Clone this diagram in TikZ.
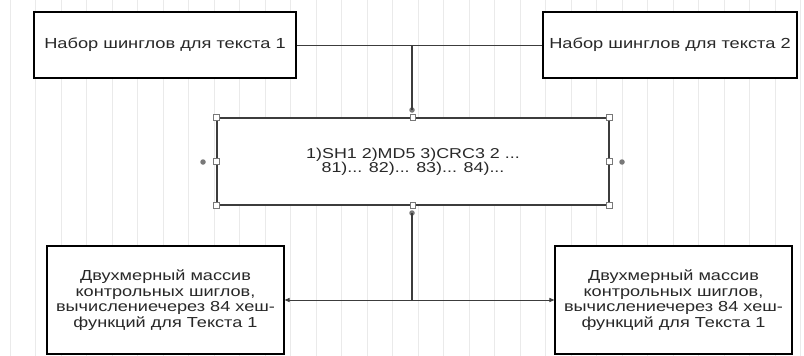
\documentclass[tikz,border=0pt]{standalone}
\usepackage{fontspec}
\setmainfont[FakeStretch=1.25]{Liberation Sans}
\usetikzlibrary{arrows.meta}
\definecolor{gridc}{RGB}{234,234,234}
\definecolor{linec}{RGB}{60,60,60}
\definecolor{handlec}{RGB}{120,120,120}
\definecolor{textc}{RGB}{40,40,40}
\tikzset{
  box/.style={draw=black, line width=1.1pt, fill=white, inner sep=0pt, align=center, text=textc},
  topbox/.style={box, font=\fontsize{14.6}{16}\selectfont},
  botbox/.style={box, font=\fontsize{14.5}{15.5}\selectfont},
  midbox/.style={draw=linec, line width=1.1pt, fill=white, inner sep=0pt, align=center, text=textc, font=\fontsize{14.3}{14}\selectfont},
  handle/.style={draw=handlec, fill=white, line width=0.9pt, minimum size=5.5pt, inner sep=0pt, rectangle},
  gdot/.style={circle, fill=handlec, draw=none, minimum size=5.5pt, inner sep=0pt},
  conn/.style={draw=linec, line width=1pt},
  thick conn/.style={draw=linec, line width=2pt},
  arr/.style={conn, -{Triangle[length=5pt,width=4pt]}}
}
\begin{document}
\begin{tikzpicture}[x=1pt,y=-1pt]
\useasboundingbox (0,0) rectangle (804,356);
\fill[white] (0,0) rectangle (804,356);
\draw[gridc, line width=0.7pt, xstep=25.5, ystep=21.5, shift={(10,0)}] (-10,0) grid (794,356);

\node[topbox, minimum width=262pt, minimum height=66pt] (b1) at (165,45) {Набор шинглов для текста 1};
\node[topbox, minimum width=254pt, minimum height=66pt] (b2) at (670,45) {Набор шинглов для текста 2};
\node[midbox, minimum width=392pt, minimum height=87pt] (m) at (413,161.5) {1)SH1 2)MD5 3)CRC3 2 ...\\ 81)... 82)... 83)... 84)...};
\node[botbox, minimum width=237pt, minimum height=108pt] (b3) at (165.5,300) {Двухмерный массив\\контрольных шиглов,\\вычислениечерез 84 хеш-\\функций для Текста 1};
\node[botbox, minimum width=237pt, minimum height=108pt] (b4) at (673.5,300) {Двухмерный массив\\контрольных шиглов,\\вычислениечерез 84 хеш-\\функций для Текста 1};

\coordinate (j1) at (412,45);
\coordinate (j2) at (412,300);
\node[gdot] (dt) at (412,110) {};
\node[gdot] (db) at (412,213) {};
\node[gdot] (dl) at (203,162) {};
\node[gdot] (dr) at (622,162) {};

\draw[conn] (b1.east) -- (b2.west);
\draw[thick conn] (j1) -- (dt.center);
\draw[thick conn] (db.center) -- (j2);
\draw[arr] (j2) -- (b3.east);
\draw[arr] (j2) -- (b4.west);

\foreach \a/\n in {north west/h1, north/h2, north east/h3, west/h4, east/h5, south west/h6, south/h7, south east/h8}
  \node[handle] (\n) at (m.\a) {};
\end{tikzpicture}
\end{document}
